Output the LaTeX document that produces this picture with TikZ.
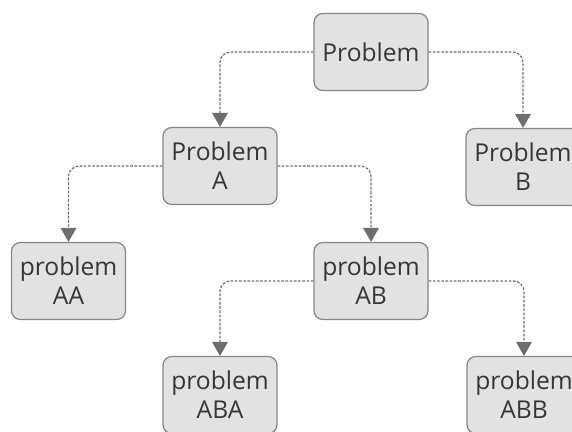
\documentclass[tikz,border=0pt]{standalone}
\usepackage{fontspec}
\setmainfont{Open Sans}
\usetikzlibrary{arrows.meta}
\definecolor{boxfill}{HTML}{E2E2E2}
\definecolor{boxline}{HTML}{858585}
\definecolor{linkgray}{HTML}{6E6E6E}
\definecolor{textgray}{HTML}{363636}
\begin{document}
\begin{tikzpicture}[
    prob/.style={draw=boxline, fill=boxfill, rounded corners=5pt, line width=0.7pt,
      minimum width=2.28cm, minimum height=1.54cm, inner sep=0pt, align=center,
      text=textgray, font=\fontsize{14}{16.5}\selectfont},
    link/.style={draw=linkgray, line width=0.7pt, dash pattern=on 1.5pt off 0.9pt,
      rounded corners=6pt, -{Triangle[width=9pt, length=8pt]}}
  ]
    \useasboundingbox (0,0) rectangle (11.44,-8.64);

    % Root
    \node[prob] (P) at (7.42,-1.04) {Problem};

    % First level
    \node[prob] (PA) at (4.40,-3.32) {Problem\\A};
    \node[prob] (PB) at (10.46,-3.34) {Problem\\B};

    % Second level
    \node[prob] (PAA) at (1.37,-5.62) {problem\\AA};
    \node[prob] (PAB) at (7.42,-5.62) {problem\\AB};

    % Third level
    \node[prob] (PABA) at (4.40,-7.90) {problem\\ABA};
    \node[prob] (PABB) at (10.48,-7.90) {problem\\ABB};

    % Links
    \draw[link] (P.west) -| (PA.north);
    \draw[link] (P.east) -| (PB.north);
    \draw[link] (PA.west) -| (PAA.north);
    \draw[link] (PA.east) -| (PAB.north);
    \draw[link] (PAB.west) -| (PABA.north);
    \draw[link] (PAB.east) -| (PABB.north);
\end{tikzpicture}
\end{document}
